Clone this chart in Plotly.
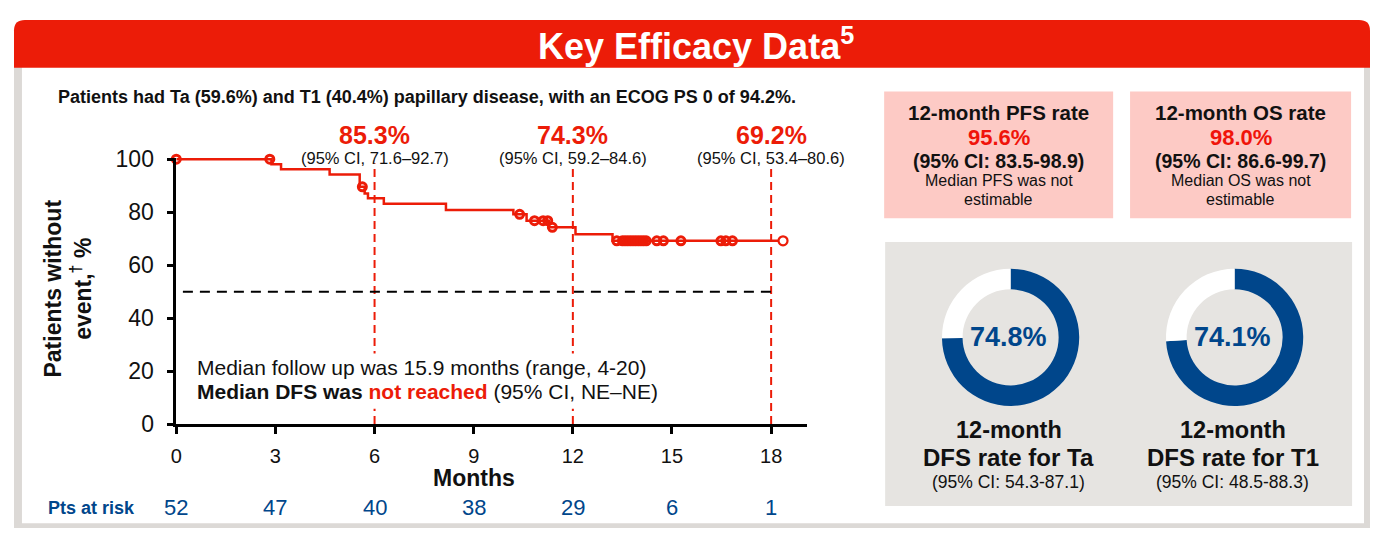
import plotly.graph_objects as go

# Reference (window) pixel positions are translated into paper fractions of a
# figure that fills the window inside the default 8px body margin.
OX, OY = 8, 8
FW, FH = 1362, 533


def fx(p):
    return (p - OX) / FW


def fy(p):
    return 1 - (p - OY) / FH


# ---------------- data ----------------
step_months = [0, 2.88, 3.17, 4.64, 5.55, 5.70, 5.80, 6.28, 8.16, 10.20, 10.60, 11.27, 12.08, 13.20, 18.36]
step_pct = [100, 98.1, 96.2, 94.2, 89.6, 87.1, 85.3, 83.2, 80.8, 79.2, 76.8, 74.3, 71.7, 69.2, 69.2]

cens_months = [0, 2.83, 5.63, 10.39, 10.84, 11.10, 11.24, 11.38,
               13.33, 13.50, 13.58, 13.66, 13.74, 13.82, 13.90, 13.98, 14.06, 14.14, 14.22,
               14.54, 14.74, 15.27, 16.48, 16.63, 16.83]
cens_pct = [100, 100, 89.6, 79.2, 76.8, 76.8, 76.8, 74.3,
            69.2, 69.2, 69.2, 69.2, 69.2, 69.2, 69.2, 69.2, 69.2, 69.2, 69.2,
            69.2, 69.2, 69.2, 69.2, 69.2, 69.2]
last_cens_month = [18.36]
last_cens_pct = [69.2]

tick_months = [0, 3, 6, 9, 12, 15, 18]
y_ticks = [0, 20, 40, 60, 80, 100]
at_risk = [52, 47, 40, 38, 29, 6, 1]

median_line = 50
landmark_months = [6, 12, 18]
landmark_rates = ["85.3%", "74.3%", "69.2%"]
landmark_ci = ["(95% CI, 71.6–92.7)", "(95% CI, 59.2–84.6)", "(95% CI, 53.4–80.6)"]

box_titles = ["12-month PFS rate", "12-month OS rate"]
box_rates = ["95.6%", "98.0%"]
box_ci = ["(95% CI: 83.5-98.9)", "(95% CI: 86.6-99.7)"]
box_notes = ["Median PFS was not", "Median OS was not"]

donut_groups = ["Ta", "T1"]
donut_rates = [74.8, 74.1]
donut_ci = ["(95% CI: 54.3-87.1)", "(95% CI: 48.5-88.3)"]

# ---------------- styles ----------------
RED = "#EC1C08"
BLUE = "#00468B"
PINK = "#FDCAC5"
PANEL = "#E6E4E1"
FRAME = "#DCD9D6"
FONT = "Liberation Sans, Arial, sans-serif"

fig = go.Figure()

# KM curve
fig.add_trace(go.Scatter(
    x=step_months, y=step_pct, mode="lines", line=dict(color=RED, width=2.5, shape="hv"),
    cliponaxis=False, hoverinfo="skip", showlegend=False))
fig.add_trace(go.Scatter(
    x=cens_months, y=cens_pct, mode="markers",
    marker=dict(symbol="circle-open", size=8, color=RED, line=dict(color=RED, width=3)),
    cliponaxis=False, hoverinfo="skip", showlegend=False))
fig.add_trace(go.Scatter(
    x=last_cens_month, y=last_cens_pct, mode="markers",
    marker=dict(symbol="circle", size=9, color="white", line=dict(color=RED, width=2.2)),
    cliponaxis=False, hoverinfo="skip", showlegend=False))

# donuts
for i, (g, r) in enumerate(zip(donut_groups, donut_rates)):
    cx = [1009, 1234][i]
    cy = 341
    rad = 72
    fig.add_trace(go.Pie(
        values=[r, 100 - r], labels=["DFS", "Event"], sort=False, direction="clockwise", rotation=0,
        hole=0.70, marker=dict(colors=[BLUE, "white"], line=dict(width=0)),
        textinfo="none", hoverinfo="skip", showlegend=False,
        domain=dict(x=[fx(cx - rad), fx(cx + rad)], y=[fy(cy + rad), fy(cy - rad)])))

shapes = []
# outer frame
shapes.append(dict(type="rect", xref="paper", yref="paper", x0=fx(8), x1=fx(1370), y0=fy(541), y1=fy(56),
                   fillcolor=FRAME, line=dict(width=0), layer="below"))
shapes.append(dict(type="rect", xref="paper", yref="paper", x0=fx(16), x1=fx(1364), y0=fy(536), y1=fy(56),
                   fillcolor="white", line=dict(width=0), layer="below"))
# header with rounded top corners
x0, x1, yt, yb, r = 8, 1370, 8, 58, 11
path = (f"M {fx(x0)},{fy(yb)} L {fx(x0)},{fy(yt + r)} Q {fx(x0)},{fy(yt)} {fx(x0 + r)},{fy(yt)} "
        f"L {fx(x1 - r)},{fy(yt)} Q {fx(x1)},{fy(yt)} {fx(x1)},{fy(yt + r)} L {fx(x1)},{fy(yb)} Z")
shapes.append(dict(type="path", xref="paper", yref="paper", path=path, fillcolor=RED,
                   line=dict(width=0), layer="below"))
# pink boxes
for bx0, bx1 in [(882, 1112), (1129, 1351)]:
    shapes.append(dict(type="rect", xref="paper", yref="paper", x0=fx(bx0), x1=fx(bx1), y0=fy(216), y1=fy(83),
                       fillcolor=PINK, line=dict(width=0), layer="below"))
# donut panel
shapes.append(dict(type="rect", xref="paper", yref="paper", x0=fx(883), x1=fx(1352), y0=fy(518), y1=fy(241),
                   fillcolor=PANEL, line=dict(width=0), layer="below"))

# reference lines
for m in landmark_months:
    shapes.append(dict(type="line", xref="x", yref="y", x0=m, x1=m, y0=0, y1=98.5,
                       line=dict(color=RED, width=2, dash="8px,5px")))
shapes.append(dict(type="line", xref="x", yref="y", x0=0.2, x1=18, y0=median_line, y1=median_line,
                   line=dict(color="black", width=2, dash="10px,7px")))
# white box behind the median text
shapes.append(dict(type="rect", xref="paper", yref="paper", x0=fx(185), x1=fx(645), y0=fy(416), y1=fy(358),
                   fillcolor="white", line=dict(width=0)))

ann = []
# title
ann.append(dict(text="<b>Key Efficacy Data<sup>5</sup></b>", x=fx(693), y=fy(33), xref="paper", yref="paper",
                showarrow=False, font=dict(size=36, color="white", family=FONT), xanchor="center", yanchor="middle"))
# subtitle
ann.append(dict(text="<b>Patients had Ta (59.6%) and T1 (40.4%) papillary disease, with an ECOG PS 0 of 94.2%.</b>",
                x=fx(50), y=fy(89), xref="paper", yref="paper", showarrow=False,
                font=dict(size=18, color="#111111", family=FONT), xanchor="left", yanchor="middle"))
# landmark labels
for m, rt, ci in zip(landmark_months, landmark_rates, landmark_ci):
    ann.append(dict(text=f"<b>{rt}</b>", x=m, y=fy(129), xref="x", yref="paper", showarrow=False,
                    font=dict(size=25, color=RED, family=FONT), xanchor="center", yanchor="middle"))
    ann.append(dict(text=ci, x=m, y=fy(153), xref="x", yref="paper", showarrow=False,
                    font=dict(size=16.5, color="#111111", family=FONT), xanchor="center", yanchor="middle"))
# median text
ann.append(dict(text="Median follow up was 15.9 months (range, 4-20)", x=fx(190), y=fy(373), xref="paper",
                yref="paper", showarrow=False, font=dict(size=21, color="#111111", family=FONT),
                xanchor="left", yanchor="middle"))
ann.append(dict(text=f"<b>Median DFS was </b><span style='color:{RED}'><b>not reached</b></span> (95% CI, NE–NE)",
                x=fx(190), y=fy(398), xref="paper", yref="paper", showarrow=False,
                font=dict(size=21, color="#111111", family=FONT), xanchor="left", yanchor="middle"))
# axis titles
ann.append(dict(text="<b>Patients without<br>event,<sup>†</sup> %</b>", x=fx(62), y=fy(290), xref="paper",
                yref="paper", showarrow=False, textangle=-90, font=dict(size=23, color="#111111", family=FONT),
                xanchor="center", yanchor="middle"))
ann.append(dict(text="<b>Months</b>", x=9, y=fy(489), xref="x", yref="paper", showarrow=False,
                font=dict(size=23, color="#111111", family=FONT), xanchor="center", yanchor="middle"))
# at risk
ann.append(dict(text="<b>Pts at risk</b>", x=fx(40), y=fy(520), xref="paper", yref="paper", showarrow=False,
                font=dict(size=18, color=BLUE, family=FONT), xanchor="left", yanchor="middle"))
for m, n in zip(tick_months, at_risk):
    ann.append(dict(text=str(n), x=m, y=fy(519), xref="x", yref="paper", showarrow=False,
                    font=dict(size=22, color=BLUE, family=FONT), xanchor="center", yanchor="middle"))
# pink boxes text
for cx, t, rt, ci, note in zip([997, 1240], box_titles, box_rates, box_ci, box_notes):
    ann.append(dict(text=f"<b>{t}</b>", x=fx(cx), y=fy(105), xref="paper", yref="paper", showarrow=False,
                    font=dict(size=20.5, color="#111111", family=FONT), xanchor="center", yanchor="middle"))
    ann.append(dict(text=f"<b>{rt}</b>", x=fx(cx), y=fy(131), xref="paper", yref="paper", showarrow=False,
                    font=dict(size=22, color="#F0140A", family=FONT), xanchor="center", yanchor="middle"))
    ann.append(dict(text=f"<b>{ci}</b>", x=fx(cx), y=fy(156), xref="paper", yref="paper", showarrow=False,
                    font=dict(size=19.5, color="#111111", family=FONT), xanchor="center", yanchor="middle"))
    ann.append(dict(text=note, x=fx(cx), y=fy(176), xref="paper", yref="paper", showarrow=False,
                    font=dict(size=16, color="#111111", family=FONT), xanchor="center", yanchor="middle"))
    ann.append(dict(text="estimable", x=fx(cx), y=fy(196), xref="paper", yref="paper", showarrow=False,
                    font=dict(size=16, color="#111111", family=FONT), xanchor="center", yanchor="middle"))
# donut text
for cx, g, r, ci in zip([1009, 1234], donut_groups, donut_rates, donut_ci):
    ann.append(dict(text=f"<b>{r:.1f}%</b>", x=fx(cx - 2), y=fy(341), xref="paper", yref="paper", showarrow=False,
                    font=dict(size=27, color=BLUE, family=FONT), xanchor="center", yanchor="middle"))
    ann.append(dict(text="<b>12-month</b>", x=fx(cx - 2), y=fy(438), xref="paper", yref="paper", showarrow=False,
                    font=dict(size=23.5, color="#111111", family=FONT), xanchor="center", yanchor="middle"))
    ann.append(dict(text=f"<b>DFS rate for {g}</b>", x=fx(cx - 2), y=fy(467), xref="paper", yref="paper",
                    showarrow=False, font=dict(size=24, color="#111111", family=FONT),
                    xanchor="center", yanchor="middle"))
    ann.append(dict(text=ci, x=fx(cx - 2), y=fy(493), xref="paper", yref="paper", showarrow=False,
                    font=dict(size=17.5, color="#111111", family=FONT), xanchor="center", yanchor="middle"))

fig.update_layout(
    autosize=True, margin=dict(l=0, r=0, t=0, b=0),
    paper_bgcolor="white", plot_bgcolor="rgba(0,0,0,0)",
    font=dict(family=FONT, color="#111111"),
    shapes=shapes, annotations=ann, showlegend=False,
    xaxis=dict(domain=[fx(171), fx(805)], range=[0, 19.1], tickvals=tick_months,
               ticktext=[str(t) for t in tick_months], showline=True, linecolor="black", linewidth=2.5,
               ticks="outside", ticklen=7, tickwidth=2.5, tickcolor="black", showgrid=False, zeroline=False,
               tickfont=dict(size=20, color="#111111", family=FONT), anchor="y", fixedrange=True,
               ticklabelstandoff=5),
    yaxis=dict(domain=[fy(432), fy(152.7)], range=[0, 100.5], tickvals=y_ticks,
               ticktext=[str(t) for t in y_ticks], showline=True, linecolor="black", linewidth=2.5,
               ticks="outside", ticklen=7, tickwidth=2.5, tickcolor="black", showgrid=False, zeroline=False,
               tickfont=dict(size=23, color="#111111", family=FONT), anchor="x", fixedrange=True,
               ticklabelstandoff=8),
)

fig.write_html("out.html", config={"displayModeBar": False, "responsive": True},
               default_width="calc(100vw - 16px)", default_height="calc(100vh - 16px)")
